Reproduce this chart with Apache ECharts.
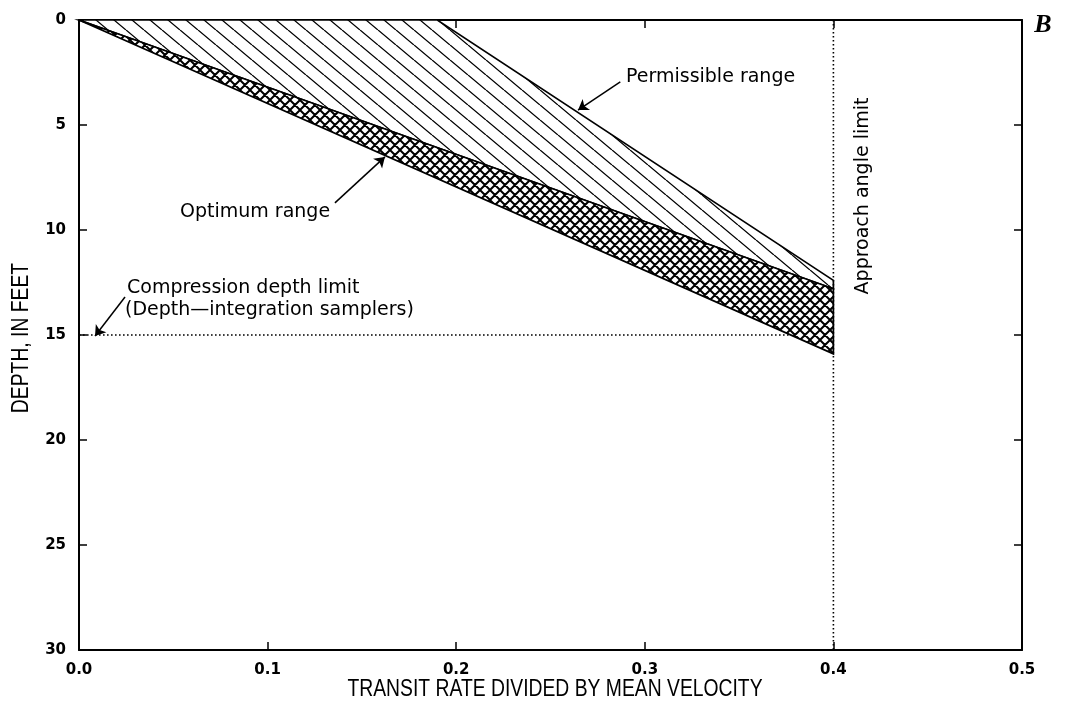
<!DOCTYPE html>
<html><head><meta charset="utf-8">
<script src="https://cdn.jsdelivr.net/npm/echarts@6/dist/echarts.min.js"></script>
<style>html,body{margin:0;padding:0;background:#fff}#c{width:1065px;height:702px}</style>
</head><body><div id="c"></div>
<script>
// ---- data (transit rate / mean velocity, depth in feet) ----
const permissibleUpper = [[0, 0], [0.19, 0], [0.4, 12.4]];
const optimumUpper = [[0, 0], [0.4, 12.8]];
const optimumLower = [[0, 0], [0.4, 15.9]];
const compressionLimit = [[0, 15], [0.377, 15]];
const approachLimit = [[0.4, 0], [0.4, 30]];
const arrowPermissible = [[0.287, 2.95], [0.2646, 4.29]];
const arrowOptimum = [[0.1357, 8.71], [0.1622, 6.52]];
const arrowCompression = [[0.0244, 13.19], [0.0085, 15.05]];
const xTickLabels = ['0.0', '0.1', '0.2', '0.3', '0.4', '0.5'];
const yTickLabels = ['0', '5', '10', '15', '20', '25', '30'];

function makePattern(w, h, lw, dirs) {
  const c = document.createElement('canvas');
  c.width = w; c.height = h;
  const ctx = c.getContext('2d');
  ctx.fillStyle = '#fff';
  ctx.fillRect(0, 0, w, h);
  ctx.strokeStyle = '#000';
  ctx.lineWidth = lw;
  ctx.beginPath();
  if (dirs.indexOf('\\') >= 0) {
    [-w, 0, w].forEach(function (o) { ctx.moveTo(o, 0); ctx.lineTo(o + w, h); });
  }
  if (dirs.indexOf('/') >= 0) {
    [-w, 0, w].forEach(function (o) { ctx.moveTo(o, h); ctx.lineTo(o + w, 0); });
  }
  ctx.stroke();
  return { image: c, repeat: 'repeat' };
}
const singleHatch = makePattern(18, 15, 1.3, '\\');
const crossHatch = makePattern(10, 10, 2, '\\/');

const permissiblePoly = permissibleUpper.concat(optimumUpper.slice().reverse());
const optimumPoly = optimumUpper.concat(optimumLower.slice().reverse());

function polySeries(poly, fill) {
  return {
    type: 'custom', coordinateSystem: 'cartesian2d', silent: true, data: [[0, 0]],
    renderItem: function (params, api) {
      return {
        type: 'polygon',
        shape: { points: poly.map(function (p) { return api.coord(p); }) },
        style: { fill: fill, stroke: '#000', lineWidth: 1.7 }
      };
    }
  };
}

const axisCommon = {
  type: 'value',
  axisLine: { show: true, onZero: false, lineStyle: { color: '#000', width: 2 } },
  axisTick: { show: true, inside: true, length: 8, lineStyle: { color: '#000', width: 1.5 } },
  splitLine: { show: false }
};
const tickFont = { color: '#000', fontWeight: 'bold', fontSize: 15, fontFamily: 'DejaVu Sans' };
const annFont = '19px "DejaVu Sans"';

const chart = echarts.init(document.getElementById('c'), null, { renderer: 'canvas' });
chart.setOption({
  animation: false,
  backgroundColor: '#fff',
  grid: { left: 79, right: 43, top: 20, bottom: 52 },
  xAxis: [
    Object.assign({}, axisCommon, { min: 0, max: 0.5, interval: 0.1, position: 'bottom',
      axisLabel: Object.assign({ margin: 13, formatter: function (v) { return xTickLabels[Math.round(v * 10)]; } }, tickFont) }),
    Object.assign({}, axisCommon, { min: 0, max: 0.5, interval: 0.1, position: 'top', axisLabel: { show: false } })
  ],
  yAxis: [
    Object.assign({}, axisCommon, { min: 0, max: 30, interval: 5, inverse: true, position: 'left',
      axisLabel: Object.assign({ margin: 13, formatter: function (v) { return yTickLabels[Math.round(v / 5)]; } }, tickFont) }),
    Object.assign({}, axisCommon, { min: 0, max: 30, interval: 5, inverse: true, position: 'right', axisLabel: { show: false } })
  ],
  series: [
    polySeries(permissiblePoly, singleHatch),
    polySeries(optimumPoly, crossHatch),
    { type: 'line', data: compressionLimit, symbol: 'none', silent: true,
      lineStyle: { color: '#000', width: 1.6, type: [1.6, 2.4] } },
    { type: 'line', data: approachLimit, symbol: 'none', silent: true,
      lineStyle: { color: '#000', width: 1.6, type: [1.6, 2.4] } },
    { type: 'lines', coordinateSystem: 'cartesian2d', silent: true,
      symbol: ['none', 'arrow'], symbolSize: 10,
      lineStyle: { color: '#000', width: 1.5, opacity: 1 },
      data: [{ coords: arrowPermissible }, { coords: arrowOptimum }, { coords: arrowCompression }] }
  ],
  graphic: [
    { type: 'text', x: 626, y: 77, style: { text: 'Permissible range', font: annFont, fill: '#000', verticalAlign: 'middle' } },
    { type: 'text', x: 180, y: 212, style: { text: 'Optimum range', font: annFont, fill: '#000', verticalAlign: 'middle' } },
    { type: 'text', x: 127, y: 288, style: { text: 'Compression depth limit', font: annFont, fill: '#000', verticalAlign: 'middle' } },
    { type: 'text', x: 125, y: 310, style: { text: '(Depth\u2014integration samplers)', font: annFont, fill: '#000', verticalAlign: 'middle' } },
    { type: 'text', x: 863, y: 196, rotation: Math.PI / 2, style: { text: 'Approach angle limit', font: annFont, fill: '#000', align: 'center', verticalAlign: 'middle' } },
    { type: 'text', x: 555, y: 690, scaleX: 0.84, style: { text: 'TRANSIT RATE DIVIDED BY MEAN VELOCITY', font: '23px "Liberation Sans"', fill: '#000', align: 'center', verticalAlign: 'middle' } },
    { type: 'text', x: 22, y: 338, rotation: Math.PI / 2, scaleX: 0.84, style: { text: 'DEPTH, IN FEET', font: '23px "Liberation Sans"', fill: '#000', align: 'center', verticalAlign: 'middle' } },
    { type: 'text', x: 1043, y: 25, style: { text: 'B', font: 'italic bold 26px "Liberation Serif"', fill: '#000', align: 'center', verticalAlign: 'middle' } }
  ]
});
</script></body></html>
